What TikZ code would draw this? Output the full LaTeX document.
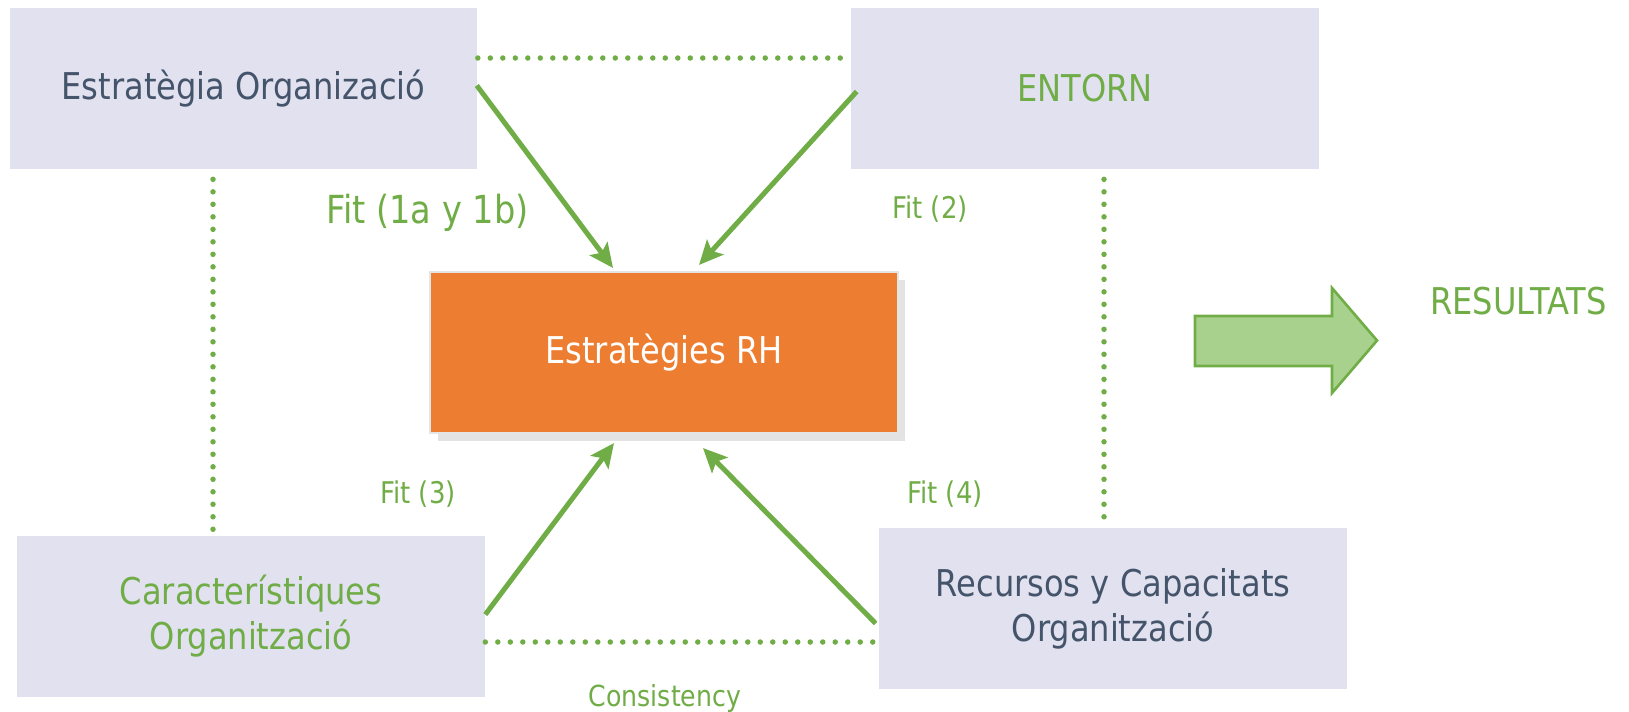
\documentclass[tikz,border=0pt]{standalone}
\usepackage{fontspec}
\setmainfont{DejaVu Sans}[FakeStretch=0.87]
\usepackage{xcolor}
\usetikzlibrary{arrows.meta,calc,shadows}
\definecolor{boxFill}{HTML}{E1E1EF}
\definecolor{textDark}{HTML}{44546A}
\definecolor{fitGreen}{HTML}{70AD47}
\definecolor{rhFill}{HTML}{ED7D31}
\definecolor{resFill}{HTML}{A9D18E}

\begin{document}
\begin{tikzpicture}[
  x=0.02cm, y=-0.02cm,
  font=\fontsize{21}{25.6}\selectfont,
  box/.style={fill=boxFill, text=textDark, align=center, inner sep=0pt,
              minimum width=9.36cm, minimum height=3.22cm},
  rhbox/.style={fill=rhFill, draw=black!10, line width=1.2pt, text=white, align=center,
              minimum width=9.36cm, minimum height=3.22cm,
              drop shadow={shadow xshift=0.15cm, shadow yshift=-0.16cm, fill=black!11, opacity=1}},
  fitflow/.style={-{Stealth[length=0.48cm,width=0.44cm,inset=0.1cm]}, line width=0.1cm, draw=fitGreen},
  dotline/.style={draw=fitGreen, line width=0.11cm, line cap=round, dash pattern=on 0pt off 0.25cm},
  lbl/.style={text=fitGreen, anchor=base, inner sep=0pt},
]
\useasboundingbox (0,0) rectangle (1629,711);

% ---- Caixes ----
\node[box]              (org)      at (243.5,88.5) {Estratègia Organizació};
\node[box, text=fitGreen] (entorn) at (1085,88.5)  {ENTORN};
\node[rhbox]            (rh)       at (664,352.5)  {Estratègies RH};
\node[box, text=fitGreen] (carac)  at (251,616.5)  {Característiques\\Organització};
\node[box]              (recursos) at (1113,608.5) {Recursos y Capacitats\\Organització};

% ---- Línies de punts ----
\draw[dotline] ($(org.east)+(0,-30.5)$)      -- ($(entorn.west)+(0,-30.5)$);
\draw[dotline] ($(org.south)+(-30.5,10)$)    -- ($(carac.north)+(-38,0)$);
\draw[dotline] ($(entorn.south)+(19,10)$)    -- ($(recursos.north)+(-9,0)$);
\draw[dotline] ($(carac.east)+(0,25.5)$)     -- ($(recursos.west)+(0,33.5)$);

% ---- Fletxes de fit ----
\draw[fitflow] ($(org.east)+(-1,-3)$)      -- ($(rh.north)+(-51,-3)$);
\draw[fitflow] ($(entorn.west)+(6,3)$)     -- ($(rh.north)+(35,-6)$);
\draw[fitflow] ($(carac.east)+(0,-2)$)     -- ($(rh.south)+(-50,9)$);
\draw[fitflow] ($(recursos.west)+(-3,15)$) -- ($(rh.south)+(39,14)$);

% ---- Etiquetes ----
\node[lbl, font=\fontsize{22}{26}\selectfont]   (fit1) at (427.5,223) {Fit (1a y 1b)};
\node[lbl, font=\fontsize{17}{20}\selectfont]   (fit2) at (930,218)   {Fit (2)};
\node[lbl, font=\fontsize{17}{20}\selectfont]   (fit3) at (418,503)   {Fit (3)};
\node[lbl, font=\fontsize{17}{20}\selectfont]   (fit4) at (945,503)   {Fit (4)};
\node[lbl, font=\fontsize{16.5}{20}\selectfont] (cons) at (665,706)   {Consistency};

% ---- Resultats ----
\draw[draw=fitGreen, fill=resFill, line width=1.5pt, line join=miter]
  (1195,316) -- (1332,316) -- (1332,288) -- (1377,340.5) -- (1332,393) -- (1332,366) -- (1195,366) -- cycle;
\node[lbl] (res) at (1518.5,314) {RESULTATS};

\end{tikzpicture}
\end{document}
